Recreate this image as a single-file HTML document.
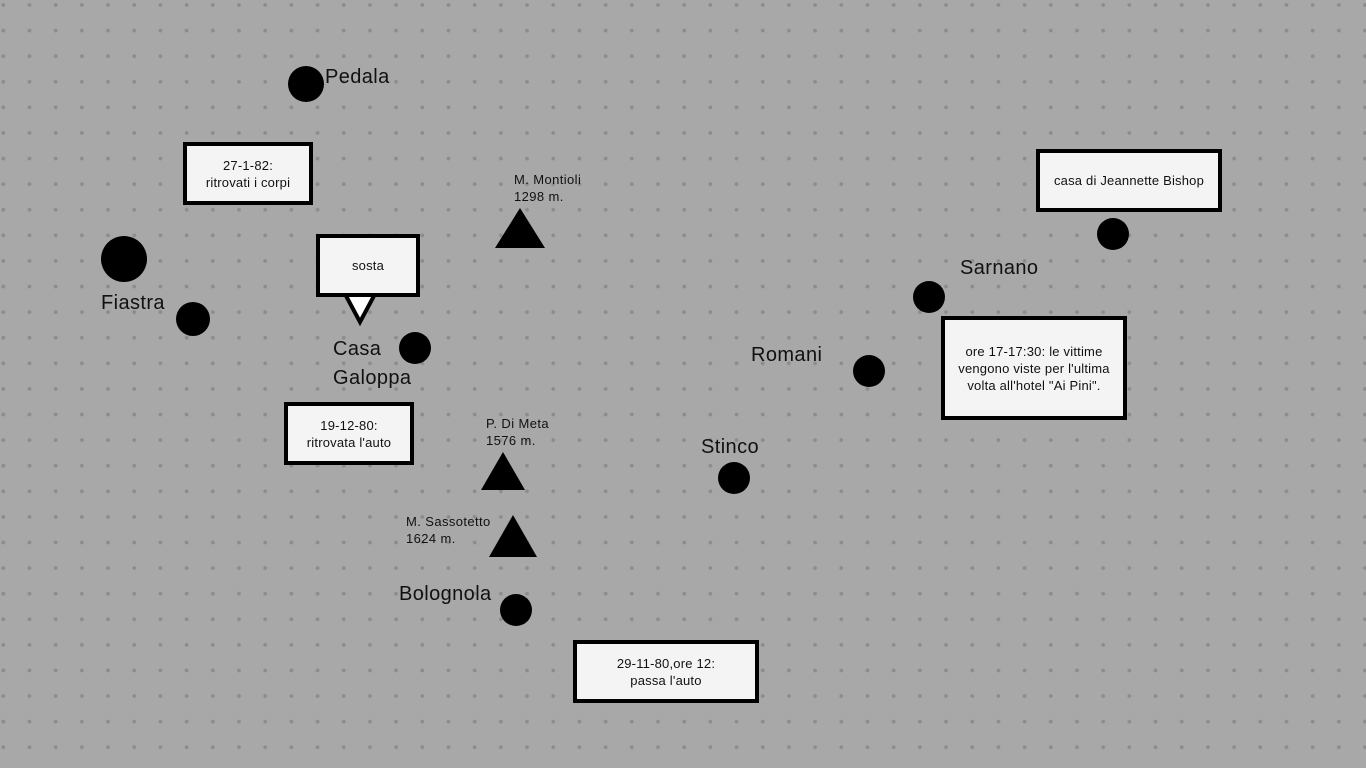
<!DOCTYPE html>
<html><head><meta charset="utf-8"><style>
html,body{margin:0;padding:0}
body{width:1366px;height:768px;position:relative;overflow:hidden;background-color:#a8a8a8;
background-image:radial-gradient(circle,#8c8c8c 1.6px,transparent 2.2px);background-size:26.2px 25.6px;background-position:-9.8px -7.8px;
font-family:"Liberation Sans",sans-serif;color:#111}
.b{position:absolute;box-sizing:border-box;border:4px solid #000;background:#f4f4f4;display:flex;align-items:center;justify-content:center;text-align:center;font-size:13px;line-height:17px;letter-spacing:0.2px}
.c{position:absolute;border-radius:50%;background:#000}
.t{position:absolute;font-size:20px;white-space:nowrap;letter-spacing:0.4px;margin-top:2px}
.s{position:absolute;font-size:13px;line-height:17px;white-space:nowrap;letter-spacing:0.4px}
.tri{position:absolute;width:0;height:0;border-left:25px solid transparent;border-right:25px solid transparent;border-bottom:40px solid #000}
</style></head><body>
<div class="c" style="left:288px;top:66px;width:36px;height:36px"></div>
<div class="t" style="left:325px;top:64px">Pedala</div>
<div class="b" style="left:183px;top:142px;width:130px;height:63px">27-1-82:<br>ritrovati i corpi</div>
<div class="c" style="left:101px;top:236px;width:46px;height:46px"></div>
<div class="t" style="left:101px;top:290px">Fiastra</div>
<div class="c" style="left:176px;top:302px;width:34px;height:34px"></div>
<svg style="position:absolute;left:342px;top:292px" width="38" height="34"><polygon points="3,2 33,2 18,30" fill="#fff" stroke="#000" stroke-width="4"/></svg>
<div class="b" style="left:316px;top:234px;width:104px;height:63px">sosta</div>
<div class="c" style="left:399px;top:332px;width:32px;height:32px"></div>
<div class="t" style="left:333px;top:333px;line-height:29px">Casa<br>Galoppa</div>
<div class="b" style="left:284px;top:402px;width:130px;height:63px">19-12-80:<br>ritrovata l'auto</div>
<div class="s" style="left:514px;top:171px">M. Montioli<br>1298 m.</div>
<div class="tri" style="left:495px;top:208px"></div>
<div class="s" style="left:486px;top:415px">P. Di Meta<br>1576 m.</div>
<div class="tri" style="left:481px;top:452px;border-left-width:22px;border-right-width:22px;border-bottom-width:38px"></div>
<div class="s" style="left:406px;top:513px">M. Sassotetto<br>1624 m.</div>
<div class="tri" style="left:489px;top:515px;border-left-width:24px;border-right-width:24px;border-bottom-width:42px"></div>
<div class="t" style="left:399px;top:581px">Bolognola</div>
<div class="c" style="left:500px;top:594px;width:32px;height:32px"></div>
<div class="b" style="left:573px;top:640px;width:186px;height:63px">29-11-80,ore 12:<br>passa l'auto</div>
<div class="t" style="left:701px;top:434px">Stinco</div>
<div class="c" style="left:718px;top:462px;width:32px;height:32px"></div>
<div class="t" style="left:751px;top:342px">Romani</div>
<div class="c" style="left:853px;top:355px;width:32px;height:32px"></div>
<div class="t" style="left:960px;top:255px">Sarnano</div>
<div class="c" style="left:913px;top:281px;width:32px;height:32px"></div>
<div class="b" style="left:1036px;top:149px;width:186px;height:63px">casa di Jeannette Bishop</div>
<div class="c" style="left:1097px;top:218px;width:32px;height:32px"></div>
<div class="b" style="left:941px;top:316px;width:186px;height:104px">ore 17-17:30: le vittime<br>vengono viste per l'ultima<br>volta all'hotel "Ai Pini".</div>
</body></html>
